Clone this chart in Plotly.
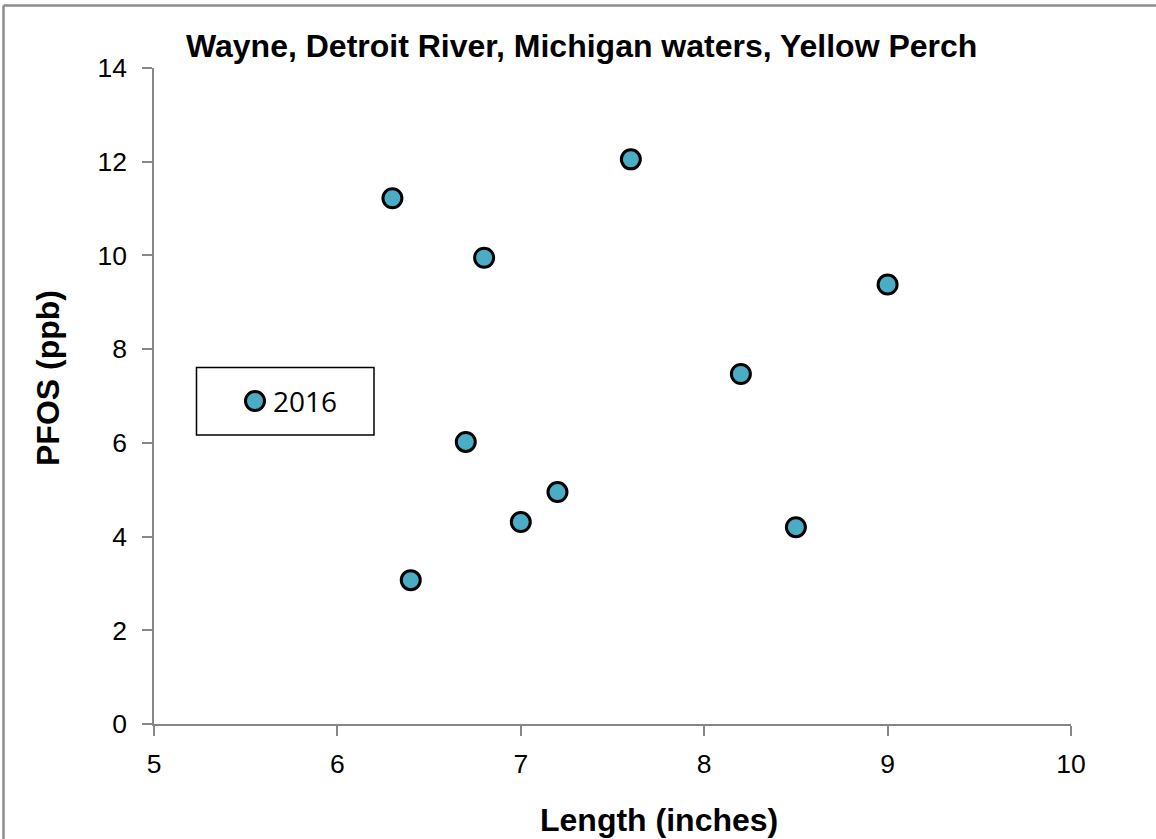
import plotly.graph_objects as go

# PFOS measurements in yellow perch, 2016
length_in = [6.3, 7.6, 6.8, 9.0, 8.2, 6.7, 7.2, 7.0, 8.5, 6.4]
pfos_ppb = [11.22, 12.05, 9.95, 9.38, 7.47, 6.02, 4.95, 4.31, 4.20, 3.07]
series_name = "2016"

x_ticks = [5, 6, 7, 8, 9, 10]
y_ticks = [0, 2, 4, 6, 8, 10, 12, 14]

W, H = 1156, 839
L, R, T, B = 154, 85, 68, 115
pw, ph = W - L - R, H - T - B

FILL = "#4BACC6"
AXIS_GREY = "#868686"
SANS = "Liberation Sans, Arial"


def px(xp):
    return (xp - L) / pw


def py(yp):
    return (H - B - yp) / ph


fig = go.Figure()
fig.add_trace(go.Scatter(
    x=length_in, y=pfos_ppb, mode="markers", name=series_name,
    marker=dict(size=19, color=FILL, line=dict(color="black", width=3)),
    cliponaxis=False, showlegend=False,
))

axis_common = dict(
    showgrid=False, zeroline=False, showline=True, linecolor=AXIS_GREY, linewidth=1.5,
    ticks="outside", ticklen=10, tickcolor=AXIS_GREY, tickwidth=1.5,
    tickfont=dict(family=SANS, size=26.5, color="black"),
)

# legend box drawn by hand: frame, symbol and label
leg_x0, leg_x1, leg_y0, leg_y1 = 196.5, 374, 367.5, 435
sym_cx, sym_cy, sym_r = 255, 401, 9.5

fig.update_layout(
    width=W, height=H,
    margin=dict(l=L, r=R, t=T, b=B),
    paper_bgcolor="white", plot_bgcolor="white",
    showlegend=False,
    xaxis=dict(range=[5, 10], tickvals=x_ticks, ticktext=[str(v) for v in x_ticks],
               ticklabelstandoff=5, **axis_common),
    yaxis=dict(range=[0, 14], tickvals=y_ticks, ticktext=[str(v) for v in y_ticks],
               ticklabelstandoff=10, **axis_common),
    shapes=[
        # outer chart frame (left and top edges)
        dict(type="line", xref="paper", yref="paper",
             x0=px(3.5), x1=px(3.5), y0=py(5.5), y1=py(H + 5),
             line=dict(color="#8c8c8c", width=2.5)),
        dict(type="line", xref="paper", yref="paper",
             x0=px(3.5), x1=px(W + 5), y0=py(5.5), y1=py(5.5),
             line=dict(color="#8c8c8c", width=2.5)),
        # legend frame
        dict(type="rect", xref="paper", yref="paper",
             x0=px(leg_x0), x1=px(leg_x1), y0=py(leg_y0), y1=py(leg_y1),
             line=dict(color="black", width=1.5), fillcolor="white"),
        # legend symbol
        dict(type="circle", xref="paper", yref="paper",
             x0=px(sym_cx - sym_r), x1=px(sym_cx + sym_r),
             y0=py(sym_cy - sym_r), y1=py(sym_cy + sym_r),
             line=dict(color="black", width=3), fillcolor=FILL),
    ],
    annotations=[
        dict(text="<b>Wayne, Detroit River, Michigan waters, Yellow Perch</b>",
             xref="paper", yref="paper", x=px(581), y=py(46),
             xanchor="center", yanchor="middle", showarrow=False,
             font=dict(family=SANS, size=32, color="black")),
        dict(text="<b>Length (inches)</b>",
             xref="paper", yref="paper", x=px(659), y=py(820),
             xanchor="center", yanchor="middle", showarrow=False,
             font=dict(family=SANS, size=32, color="black")),
        dict(text="<b>PFOS (ppb)</b>", textangle=-90,
             xref="paper", yref="paper", x=px(48), y=py(378),
             xanchor="center", yanchor="middle", showarrow=False,
             font=dict(family=SANS, size=32, color="black")),
        dict(text=series_name,
             xref="paper", yref="paper", x=px(271), y=py(401),
             xanchor="left", yanchor="middle", showarrow=False,
             font=dict(family="Open Sans, Liberation Sans", size=28, color="black")),
    ],
)

fig.write_html("out.html")
